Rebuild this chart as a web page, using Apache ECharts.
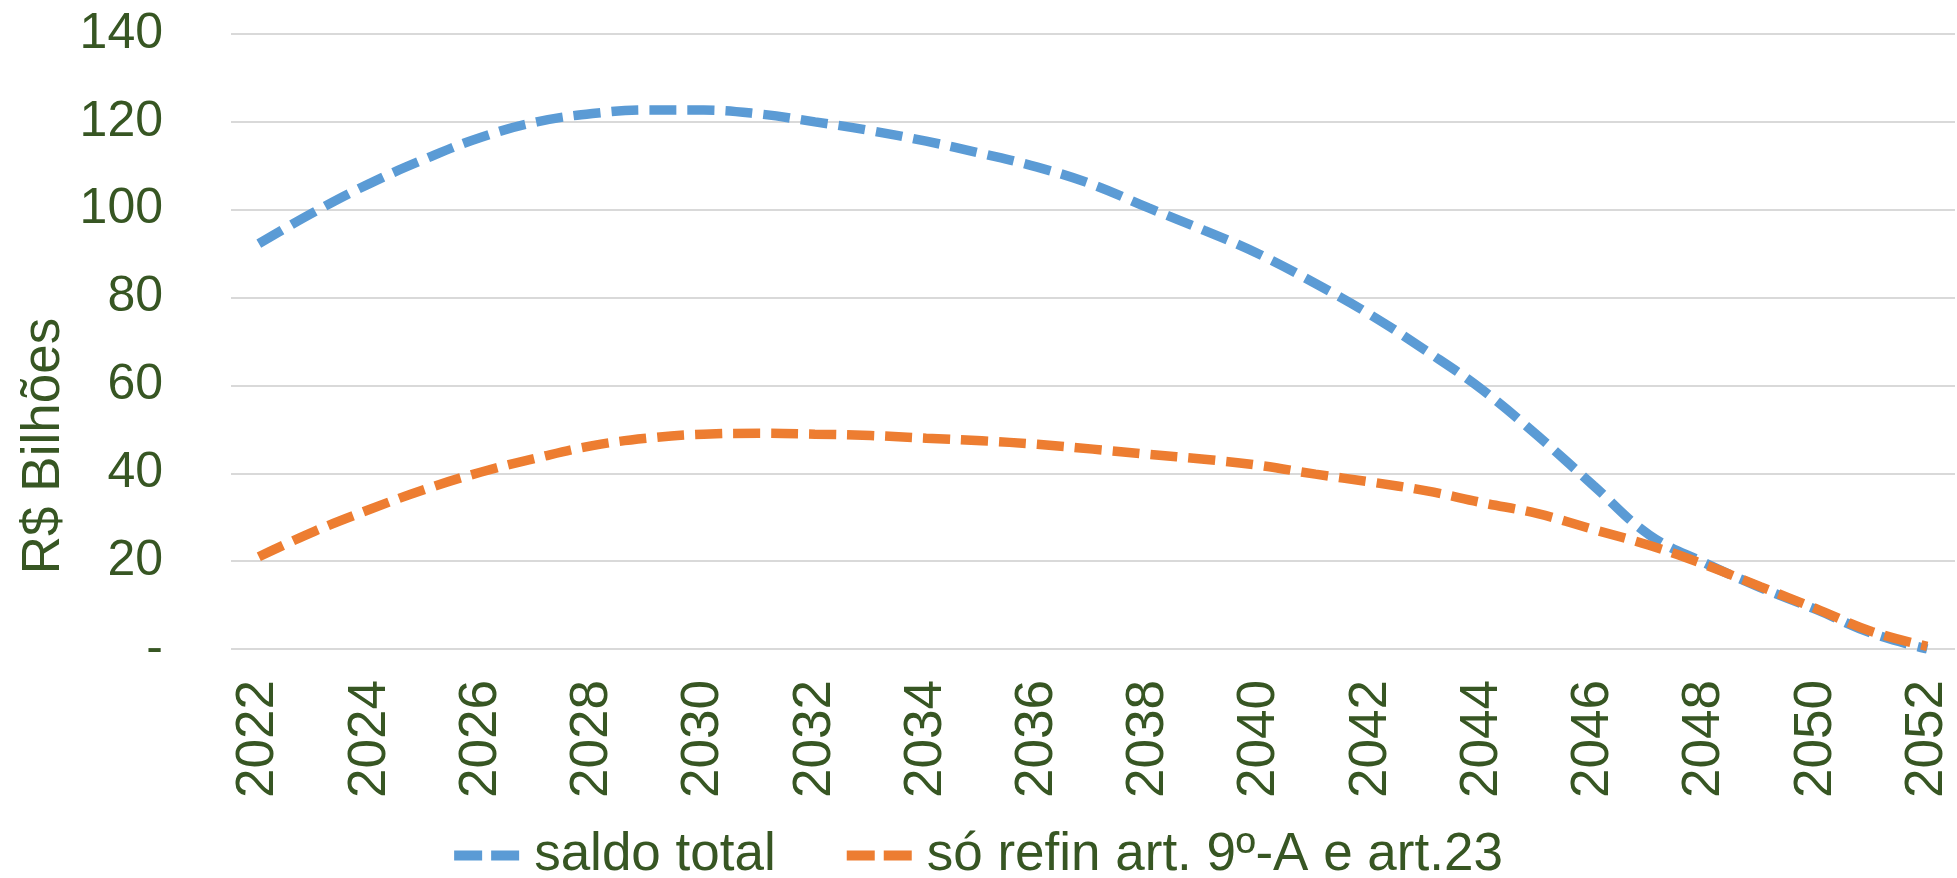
<!DOCTYPE html>
<html>
<head>
<meta charset="utf-8">
<script src="https://cdn.jsdelivr.net/npm/echarts/dist/echarts.min.js"></script>
<style>
  html, body { margin: 0; padding: 0; background: #fff; }
  #chart { width: 1957px; height: 878px; }
</style>
</head>
<body>
<div id="chart"></div>
<script>
// anos 2022..2052
const years = ['2022', '2023', '2024', '2025', '2026', '2027', '2028', '2029', '2030', '2031',
  '2032', '2033', '2034', '2035', '2036', '2037', '2038', '2039', '2040', '2041',
  '2042', '2043', '2044', '2045', '2046', '2047', '2048', '2049', '2050', '2051', '2052']

// R$ bilhões
const saldoTotal = [92.3, 99.5, 106, 111.6, 116.5, 120, 121.9, 122.7, 122.7, 121.8,
  120, 118, 115.6, 112.8, 109.7, 105.7, 100.4, 95.3, 89.8, 83.2,
  76, 67.8, 59, 48.5, 37.2, 26, 19.6, 14, 9, 3.6, 0]
const soRefin = [21, 26.8, 31.8, 36.4, 40.3, 43.5, 46.3, 48, 48.9, 49.1,
  48.9, 48.6, 48, 47.4, 46.6, 45.5, 44.3, 43.2, 41.8, 39.8,
  38, 36, 33.3, 30.8, 27.2, 23.6, 19.2, 14.2, 9.2, 4, 0.6]

const seriesNames = ['saldo total', 'só refin art. 9º-A e art.23']
const yTicks = { min: 0, max: 140, step: 20 }

const textColor = '#375623'
const fontFamily = '"Liberation Sans", Arial, sans-serif'

// dois tracinhos, como no Excel
const dashIcon = 'path://M0,0 H28 V10 H0 Z M37,0 H65 V10 H37 Z'

const myChart = echarts.init(document.getElementById('chart'))

function lineSeries(name, data, color) {
  return {
    name: name,
    type: 'line',
    smooth: 0.4,
    symbol: 'none',
    data: data,
    lineStyle: {
      color: color,
      width: 9.5,
      type: [27, 11],
      cap: 'butt',
    },
    itemStyle: { color: color },
  }
}

const option = {
  animation: false,
  grid: {
    left: 231,
    right: 2,
    top: 34,
    bottom: 229,
  },
  legend: {
    data: seriesNames,
    icon: dashIcon,
    left: 'center',
    top: 824,
    itemWidth: 65,
    itemHeight: 10,
    itemGap: 71,
    textStyle: {
      color: textColor,
      fontFamily: fontFamily,
      fontSize: 53,
      padding: [0, 0, 0, 10],
    },
  },
  xAxis: {
    type: 'category',
    boundaryGap: true,
    data: years,
    axisLine: { show: false },
    axisTick: { show: false },
    axisLabel: {
      interval: 1,
      rotate: 90,
      margin: 31,
      color: textColor,
      fontFamily: fontFamily,
      fontSize: 53,
    },
  },
  yAxis: {
    type: 'value',
    min: yTicks.min,
    max: yTicks.max,
    interval: yTicks.step,
    axisLine: { show: false },
    axisTick: { show: false },
    axisLabel: {
      margin: 68,
      color: textColor,
      fontFamily: fontFamily,
      fontSize: 50,
      formatter: (v) => (v === 0 ? '-' : String(v)),
    },
    splitLine: {
      lineStyle: { color: '#D9D9D9', width: 2 },
    },
  },
  graphic: [
    {
      type: 'text',
      x: 44,
      y: 446,
      rotation: Math.PI / 2,
      style: {
        text: 'R$ Bilhões',
        fill: textColor,
        font: '53px ' + fontFamily,
        textAlign: 'center',
        textVerticalAlign: 'middle',
      },
    },
  ],
  series: [
    lineSeries(seriesNames[0], saldoTotal, '#5B9BD5'),
    lineSeries(seriesNames[1], soRefin, '#ED7D31'),
  ],
}

myChart.setOption(option)
</script>
</body>
</html>
